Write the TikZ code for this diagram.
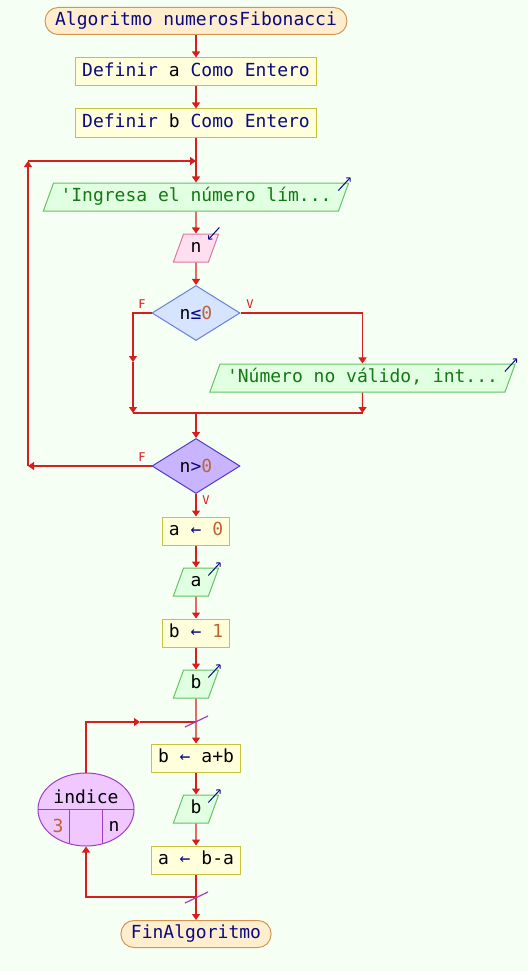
\documentclass[tikz,border=0pt]{standalone}
\usepackage{fontspec}
\setmonofont{DejaVu Sans Mono}
\usetikzlibrary{shapes.geometric,arrows.meta}

\definecolor{fondo}{RGB}{246,255,244}
\definecolor{roja}{RGB}{215,30,30}
\definecolor{azul}{RGB}{10,10,130}
\definecolor{naranja}{RGB}{190,100,50}
\definecolor{verde}{RGB}{20,120,20}
\definecolor{termfill}{RGB}{255,238,205}
\definecolor{termline}{RGB}{210,150,80}
\definecolor{cajafill}{RGB}{255,255,220}
\definecolor{cajaline}{RGB}{200,195,60}
\definecolor{salfill}{RGB}{225,255,225}
\definecolor{salline}{RGB}{100,195,100}
\definecolor{entfill}{RGB}{255,222,240}
\definecolor{entline}{RGB}{220,120,160}
\definecolor{sifill}{RGB}{215,228,255}
\definecolor{siline}{RGB}{100,130,220}
\definecolor{mqfill}{RGB}{200,180,255}
\definecolor{mqline}{RGB}{80,60,200}
\definecolor{parafill}{RGB}{240,200,255}
\definecolor{paraline}{RGB}{160,60,200}

\newcommand{\pfont}{\fontsize{18}{21}\selectfont\ttfamily}
\newcommand{\pkw}[1]{\textcolor{azul}{#1}}
\newcommand{\pnum}[1]{\textcolor{naranja}{#1}}
\newcommand{\pstr}[1]{\textcolor{verde}{#1}}

\tikzset{
 flecha/.style={draw=roja,line width=1.2pt,-{Triangle[width=8pt,length=6pt]}},
 linea/.style={draw=roja,line width=1.2pt},
 term/.style={draw=termline,fill=termfill,line width=1pt,rounded corners=13pt,inner xsep=10pt,inner ysep=5pt,text height=13pt,text depth=4pt,font=\pfont},
 caja/.style={rectangle,draw=cajaline,fill=cajafill,line width=1pt,inner xsep=6.5pt,inner ysep=5.5pt,text height=13pt,text depth=4pt,font=\pfont},
 salida/.style={trapezium,trapezium left angle=70,trapezium right angle=110,draw=salline,fill=salfill,line width=1pt,inner xsep=7pt,inner ysep=5.5pt,text height=13pt,text depth=4pt,font=\pfont},
 entrada/.style={salida,draw=entline,fill=entfill},
 decision/.style={diamond,line width=1pt,minimum width=88pt,minimum height=55pt,inner sep=0pt,font=\pfont},
 etiq/.style={text=roja,font=\fontsize{12}{14}\selectfont\ttfamily,inner sep=0pt},
 icono/.style={draw=azul,line width=1pt,-{To[length=3.5pt,width=6pt]}},
 marca/.style={draw=paraline,line width=1.2pt},
}

\begin{document}
\begin{tikzpicture}[x=1pt,y=-1pt]
 \fill[fondo] (0,0) rectangle (528,971); %背景
 \useasboundingbox (0,0) rectangle (528,971);

 \node[term] (inicio) at (196,21) {\pkw{Algoritmo numerosFibonacci}}; %開始
 \node[caja] (defa) at (196,72) {\pkw{Definir} a \pkw{Como Entero}};
 \node[caja] (defb) at (196,123) {\pkw{Definir} b \pkw{Como Entero}};
 \coordinate (ret) at (196,161); %繰り返しの戻り先
 \node[salida] (msg1) at (196,197) {\pstr{'Ingresa el número lím...}};
 \node[entrada] (leer) at (196,248) {n};
 \node[decision,draw=siline,fill=sifill] (cond1) at (196,313) {n\pkw{≤}\pnum{0}}; %分岐
 \node[salida] (msg2) at (362.5,378) {\pstr{'Número no válido, int...}};
 \coordinate (midF) at (133,362);
 \coordinate (finF) at (133,413);
 \coordinate (finV) at (362.5,413);
 \coordinate (junta) at (196,413);
 \node[decision,draw=mqline,fill=mqfill] (cond2) at (196,466) {n\pkw{>}\pnum{0}}; %繰り返し条件
 \coordinate (vueltaA) at (28,466);
 \coordinate (vueltaB) at (28,161);
 \node[caja] (asig1) at (196,531) {a \pkw{←} \pnum{0}};
 \node[salida] (escA) at (196,582) {a};
 \node[caja] (asig2) at (196,633) {b \pkw{←} \pnum{1}};
 \node[salida] (escB1) at (196,684) {b};
 \coordinate (paraIn) at (196,722); %Para 開始
 \coordinate (medio) at (140,722);
 \node[caja] (asig3) at (196,758) {b \pkw{←} a+b};
 \node[salida] (escB2) at (196,809) {b};
 \node[caja] (asig4) at (196,860) {a \pkw{←} b-a};
 \coordinate (paraOut) at (196,897); %Para 終了
 \node[term] (fin) at (196,934) {\pkw{FinAlgoritmo}}; %終了

 %Para のだ円
 \node[ellipse,draw=paraline,fill=parafill,line width=1pt,minimum width=96pt,minimum height=73pt,inner sep=0pt] (indice) at (86,809.5) {};
 \begin{scope}
  \clip (86,809.5) ellipse [x radius=48, y radius=36.5];
  \draw[paraline,line width=1pt] (30,809)--(140,809);
  \draw[paraline,line width=1pt] (69,809)--(69,850);
  \draw[paraline,line width=1pt] (102,809)--(102,850);
 \end{scope}
 \node[font=\pfont,inner sep=0pt] (txtind) at (86,797) {indice};
 \node[font=\pfont,inner sep=0pt] (txtini) at (58,826) {\pnum{3}};
 \node[font=\pfont,inner sep=0pt] (txtfin) at (114,826) {n};

 %矢印
 \draw[flecha] (inicio)--(defa);
 \draw[flecha] (defa)--(defb);
 \draw[flecha] (defb)--(msg1);
 \draw[flecha] (msg1)--(leer);
 \draw[flecha] (leer)--(cond1);
 \draw[flecha] (cond1.west) -| (midF);
 \draw[flecha] (midF)--(finF);
 \draw[flecha] (cond1.east) -| (msg2.north);
 \draw[flecha] (msg2.south)--(finV);
 \draw[linea] (finF)--(finV);
 \draw[flecha] (junta)--(cond2);
 \draw[flecha] (cond2.west)--(vueltaA);
 \draw[flecha] (vueltaA)--(vueltaB);
 \draw[flecha] (vueltaB)--(ret);
 \draw[flecha] (cond2)--(asig1);
 \draw[flecha] (asig1)--(escA);
 \draw[flecha] (escA)--(asig2);
 \draw[flecha] (asig2)--(escB1);
 \draw[flecha] (escB1)--(asig3);
 \draw[flecha] (indice.north) |- (medio);
 \draw[linea] (medio)--(paraIn);
 \draw[flecha] (asig3)--(escB2);
 \draw[flecha] (escB2)--(asig4);
 \draw[flecha] (asig4)--(fin);
 \draw[flecha] (paraOut) -| (indice.south);

 %ラベル
 \node[etiq] (f1) at (142,304) {F};
 \node[etiq] (v1) at (250,304) {V};
 \node[etiq] (f2) at (142,457) {F};
 \node[etiq] (v2) at (206,500) {V};

 %Para の印
 \draw[marca] (185,727)--(208,716);
 \draw[marca] (185,903)--(208,892);

 %入出力の印
 \draw[icono] ([shift={(-11,8)}]msg1.top right corner)--([shift={(1,-5)}]msg1.top right corner);
 \draw[icono] ([shift={(-11,8)}]msg2.top right corner)--([shift={(1,-5)}]msg2.top right corner);
 \draw[icono] ([shift={(0,-6)}]leer.top right corner)--([shift={(-11,6)}]leer.top right corner);
 \draw[icono] ([shift={(-11,8)}]escA.top right corner)--([shift={(1,-5)}]escA.top right corner);
 \draw[icono] ([shift={(-11,8)}]escB1.top right corner)--([shift={(1,-5)}]escB1.top right corner);
 \draw[icono] ([shift={(-11,8)}]escB2.top right corner)--([shift={(1,-5)}]escB2.top right corner);
\end{tikzpicture}
\end{document}
